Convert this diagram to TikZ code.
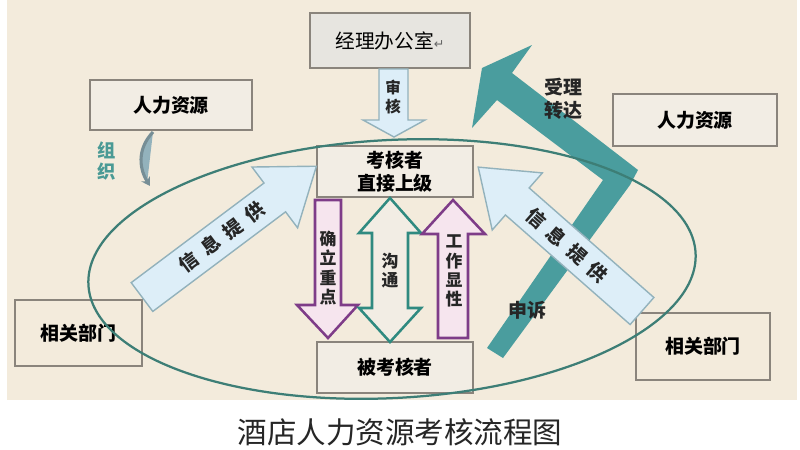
\documentclass[tikz,border=0pt]{standalone}
\usepackage{fontspec}
\usetikzlibrary{arrows.meta,calc}
\newfontfamily\cjk{Noto Sans CJK SC}
\newfontfamily\symf{DejaVu Sans}
\definecolor{paper}{HTML}{F3EBDC}
\definecolor{boxline}{HTML}{8A847C}
\definecolor{boxfill}{HTML}{F2EDE4}
\definecolor{mgrfill}{HTML}{E7E5E0}
\definecolor{ringcol}{HTML}{3D7E76}
\definecolor{infofill}{HTML}{DDEEF8}
\definecolor{infoline}{HTML}{93B2BC}
\definecolor{plum}{HTML}{7E3C88}
\definecolor{plumfill}{HTML}{F6E5EE}
\definecolor{talkcol}{HTML}{2F8A80}
\definecolor{appeal}{HTML}{4A9D9E}
\definecolor{orgcol}{HTML}{4A9A95}
\tikzset{
    box/.style={
        draw=boxline,
        line width=1.4pt,
        fill=boxfill,
        inner sep=0pt,
        align=center,
        font=\cjk\bfseries\fontsize{13.5}{16}\selectfont
    },
    label text/.style={
        font=\cjk\bfseries\fontsize{13.5}{16}\selectfont,
        text=black!85
    },
    column text/.style={
        align=center,
        inner sep=0pt,
        font=\cjk\bfseries\fontsize{12}{13.6}\selectfont,
        text=black!85
    },
    info arrow/.style={
        fill=infofill,
        draw=infoline,
        line width=1pt,
        line join=miter
    },
    pics/fat arrow/.style={
        code={
            \path [pic actions]
            (0,-18) -- (166,-18) -- (166,-38) -- (218,0)
            -- (166,38) -- (166,18) -- (0,18) -- cycle;
        }
    }
}
\begin{document}
\begin{tikzpicture}[x=0.025cm, y=-0.025cm]
                \useasboundingbox (0,0) rectangle (800,449);
                \fill [white] (0,0) rectangle (800,449);
                \fill [paper] (7,0) rectangle (797,400);
                % boxes
                \node [box, fill=mgrfill, minimum width=4cm, minimum height=1.375cm,
                    font=\cjk\fontsize{14}{16}\selectfont] (manager) at (390,40.5)
                    {经理办公室{\symf\fontsize{9}{10}\selectfont\color{black!60}↵}};
                \node [box, minimum width=4.05cm, minimum height=1.25cm] (hrL) at (171,105) {人力资源};
                \node [box, minimum width=4.1cm, minimum height=1.3cm] (hrR) at (695,120) {人力资源};
                \node [box, minimum width=3.9cm, minimum height=1.275cm] (boss) at (395,171.5) {考核者\\直接上级};
                \node [box, minimum width=3.9cm, minimum height=1.275cm] (staff) at (395,367.5) {被考核者};
                \node [box, fill=none, minimum width=3.175cm, minimum height=1.65cm] (deptL) at (78.5,333) {相关部门};
                \node [box, fill=none, minimum width=3.35cm, minimum height=1.675cm] (deptR) at (703,346.5) {相关部门};
                % appeal arrow
                \coordinate (P1) at (482,68);
                \coordinate (P2) at (532,45);
                \coordinate (P3) at (512,73);
                \coordinate (P4) at (638,170);
                \coordinate (P5) at (630,185);
                \coordinate (P6) at (503,358);
                \coordinate (P7) at (487,348);
                \coordinate (P8) at (603,180);
                \coordinate (P9) at (497,100);
                \coordinate (P10) at (472,128);
                \fill [appeal] (P1) -- (P2) -- (P3) -- (P4) -- (P5) -- (P6) -- (P7) -- (P8) -- (P9) -- (P10) -- cycle;
                \node [label text] (accept) at (563,87) {受理};
                \node [label text] (forward) at (563,110) {转达};
                \node [label text] (complain) at (527,310) {申诉};
                % ring
                \draw [ringcol, line width=1.6pt] (392,269) ellipse [x radius=304, y radius=129, rotate=3];
                % organise
                \coordinate (org) at (150,186);
                \draw [infoline!80!black, fill=infoline, line width=2.2pt, -{Stealth[length=6pt,width=7pt]}]
                    (hrL.south -| org) ++(3,1) .. controls (136,150) and (140,170) .. (org);
                \node [column text, text=orgcol, font=\cjk\bfseries\fontsize{13}{15.5}\selectfont] (orgtext) at (107,161) {组\\织};
                % review arrow
                \draw [info arrow]
                    ($(manager.south)+(-11,0)$) -- ($(manager.south)+(18,0)$) -- (408,120) -- (425,120)
                    -- ($(boss.north)+(-1,-8)$) -- (363,120) -- (379,120) -- cycle;
                \node [column text, font=\cjk\bfseries\fontsize{11}{14}\selectfont] (review) at (393,97) {审\\核};
                % information arrows
                \pic [info arrow, rotate=36.87] at (142,297) {fat arrow};
                \node [label text, rotate=36.87] (infoL) at (222,237) {信\hspace{6pt}息\hspace{6pt}提\hspace{6pt}供};
                \pic [info arrow, rotate=138.7] at (642,311) {fat arrow};
                \node [label text, rotate=-41.3] (infoR) at (567,245) {信\hspace{6pt}息\hspace{6pt}提\hspace{6pt}供};
                % columns between boss and staff
                \draw [plum, fill=plumfill, line width=1.8pt, line join=miter]
                    (315,200) -- (341,200) -- (341,305) -- (358,305) -- (328,338)
                    -- (297,305) -- (315,305) -- cycle;
                \draw [talkcol, fill=boxfill, line width=1.8pt, line join=miter]
                    (390,198) -- (421,233) -- (408,233) -- (408,308) -- (421,308) -- (390,342)
                    -- (359,308) -- (372,308) -- (372,233) -- (359,233) -- cycle;
                \draw [plum, fill=plumfill, line width=1.8pt, line join=miter]
                    (453,200) -- (485,234) -- (468,234) -- (468,338) -- (438,338)
                    -- (438,234) -- (422,234) -- cycle;
                \node [column text] (focus) at (328,268) {确\\立\\重\\点};
                \node [column text] (talk) at (390,271) {沟\\通};
                \node [column text] (show) at (454,271) {工\\作\\显\\性};
                % caption
                \node [font=\cjk\fontsize{21}{24}\selectfont, text=black!85] (title) at (400,432) {酒店人力资源考核流程图};
            \end{tikzpicture}
\end{document}
